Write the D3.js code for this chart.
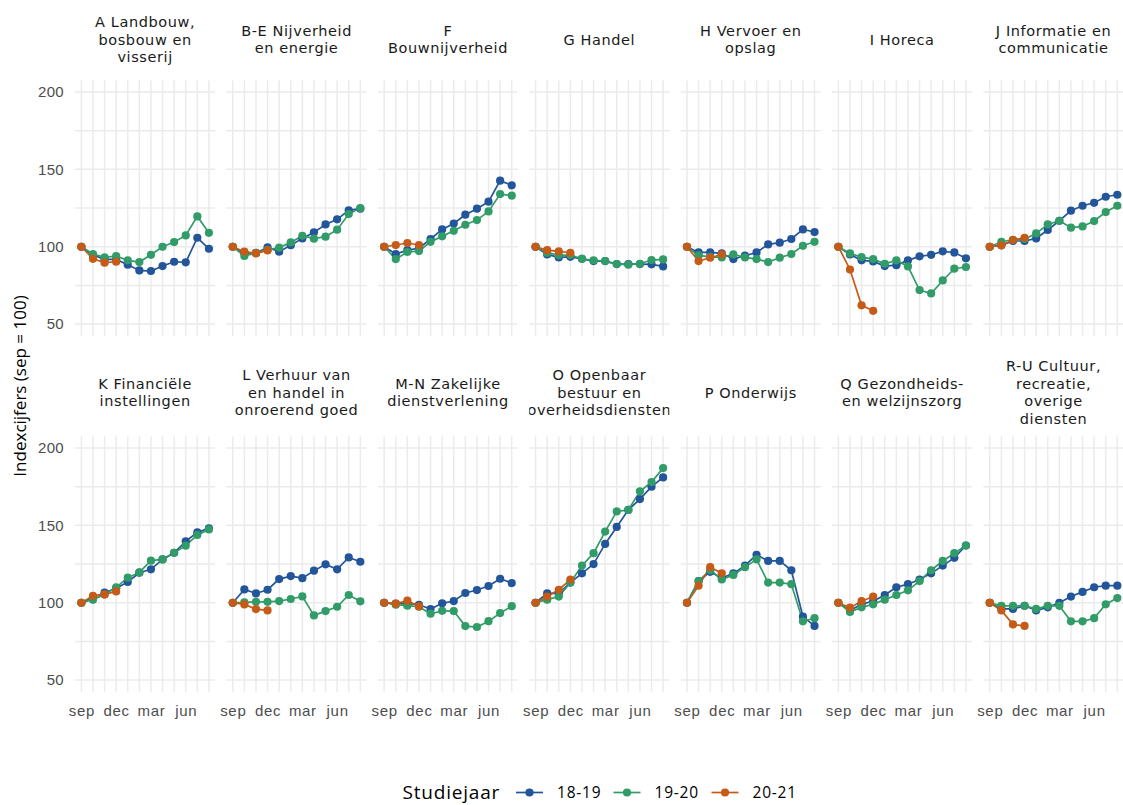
<!DOCTYPE html>
<html>
<head>
<meta charset="utf-8">
<script src="https://cdn.jsdelivr.net/npm/d3@7"></script>
<style>
  html, body { margin: 0; padding: 0; background: #ffffff; }
  svg { display: block; font-family: "Open Sans", "DejaVu Sans", sans-serif; }
</style>
</head>
<body>
<svg id="chart" width="1123" height="805"></svg>
<script>
// Sector labels (SBI sections), split into strip lines
const sectors = [
  ["A Landbouw,", "bosbouw en", "visserij"],
  ["B-E Nijverheid", "en energie"],
  ["F", "Bouwnijverheid"],
  ["G Handel"],
  ["H Vervoer en", "opslag"],
  ["I Horeca"],
  ["J Informatie en", "communicatie"],
  ["K Financiële", "instellingen"],
  ["L Verhuur van", "en handel in", "onroerend goed"],
  ["M-N Zakelijke", "dienstverlening"],
  ["O Openbaar", "bestuur en", "overheidsdiensten"],
  ["P Onderwijs"],
  ["Q Gezondheids-", "en welzijnszorg"],
  ["R-U Cultuur,", "recreatie,", "overige", "diensten"]
];

// Months of the school year (sep = index 0)
const months = ["sep", "okt", "nov", "dec", "jan", "feb", "mar", "apr", "mei", "jun", "jul", "aug"];
const monthTicks = [0, 3, 6, 9];
const yTicks = [50, 100, 150, 200];
const yMinor = [75, 125, 175];

// Study years
const years = ["18-19", "19-20", "20-21"];
const yearColors = ["#23559a", "#329c68", "#c65a17"];

// Index values per sector (same order as sectors), sep = 100
const idx1819 = [
  [100, 94.6, 91.8, 91.8, 88.4, 84.7, 84.3, 87.5, 90.3, 89.9, 105.8, 98.7],
  [100, 96, 96, 99.6, 96.8, 101, 105.4, 109.3, 114.4, 117.7, 123.5, 124.6],
  [100, 95.3, 97.8, 99, 105, 111.2, 115, 120.7, 124.6, 129.1, 142.7, 139.7],
  [100, 95, 93.1, 93.5, 92.2, 90.7, 90.7, 88.8, 88.8, 88.8, 88.6, 87.3],
  [100, 96.3, 96.3, 95.7, 92, 94.2, 96.3, 101.5, 102.6, 105, 111.2, 109.5],
  [100, 95, 91.2, 90.5, 87.5, 88.1, 91.2, 93.8, 94.8, 97, 96.3, 92.5],
  [100, 100.9, 103.7, 103.7, 105.4, 110.8, 116.8, 123.3, 126.5, 128.4, 132.3, 133.6],
  [100, 103.4, 106.5, 109.3, 113.4, 119.4, 121.6, 128, 132.3, 139.7, 145.5, 148.1],
  [100, 108.6, 106, 108.4, 115.3, 117.2, 115.9, 120.7, 124.8, 121.6, 129.3, 126.5],
  [100, 99.4, 99.6, 98.7, 95.9, 99.6, 101.1, 106.3, 108.2, 110.8, 115.5, 112.7],
  [100, 106, 106, 113, 119, 125, 138, 149, 160, 167, 175, 181],
  [100, 114, 120, 116, 119, 124, 131, 127, 127, 121, 91, 85],
  [100, 95, 99, 101, 105, 110, 112, 115, 119, 124, 129, 137],
  [100, 96, 96, 98, 95, 97, 100, 104, 107, 110, 111, 111]
];
const idx1920 = [
  [100, 95.3, 93.1, 94, 91.2, 90.1, 94.8, 100, 103, 107.3, 119.6, 109],
  [100, 94, 96, 98, 99.4, 102.8, 107.1, 105.2, 106.5, 111, 121.1, 125],
  [100, 92, 96.6, 97.2, 103.2, 106.7, 110.3, 114.2, 117.2, 122.8, 134, 133],
  [100, 96.1, 94.6, 94.6, 92.2, 91.2, 90.7, 88.8, 88.4, 89, 91.4, 91.8],
  [100, 94.4, 93.5, 93.1, 95, 93.1, 92, 90.1, 92.9, 95.3, 100.6, 103.2],
  [100, 95.7, 93.3, 92, 89, 91.2, 87.3, 72, 69.8, 78.2, 85.8, 86.9],
  [100, 103.2, 104.5, 105, 108.6, 114.4, 116.8, 112.3, 113.1, 116.6, 122.4, 126.5],
  [100, 101.9, 105.4, 109.9, 116.2, 119.6, 127.2, 128, 132.3, 136.9, 143.8, 147.4],
  [100, 100.2, 100.6, 100.6, 101.1, 102.4, 104.1, 91.8, 94.6, 97.4, 105, 100.9],
  [100, 98.7, 98.1, 97.4, 92.9, 94.8, 94.6, 84.9, 84.3, 88.1, 93.3, 97.8],
  [100, 102, 104, 113, 124, 132, 146, 159, 160, 172, 178, 187],
  [100, 114, 121, 115, 118, 123, 128, 113, 113, 112, 88, 90],
  [100, 94, 97, 99, 102, 105, 108, 114, 121, 127, 132, 137],
  [100, 98, 98, 98, 96, 98, 98, 88, 88, 90, 99, 103]
];
const idx2021 = [
  [100, 92.2, 89.7, 90.3],
  [100, 96.8, 95.7, 97.6],
  [100, 101.1, 102.4, 101.1],
  [100, 97.8, 97, 96.1],
  [100, 90.7, 92.9, 95],
  [100, 85.3, 62.1, 58.6],
  [100, 100.9, 104.3, 105.8],
  [100, 104.5, 105.4, 107.3],
  [100, 98.9, 95.9, 95],
  [100, 99.4, 101.3, 97.6],
  [100, 104, 108.4, 115],
  [100, 111, 123, 119],
  [100, 96.8, 101, 104],
  [100, 95, 86, 85]
];
const seriesByYear = [idx1819, idx1920, idx2021];

// Facet grid geometry
const nCols = 7;
const panelLeft0 = 75;
const panelStride = 151.4;
const panelW = 140.3;
const panelH = 255.3;
const rowTops = [80.4, 436.4];
const stripCenters = [39.5, 392.5];
const stripLineH = 17.6;

const svg = d3.select("#chart");
const defs = svg.append("defs");

const x = d3.scaleLinear().domain([-0.55, 11.55]).range([0, panelW]);
const y = d3.scaleLinear().domain([42.5, 207.5]).range([panelH, 0]);

const line = d3.line()
  .x((d, i) => x(i))
  .y(d => y(d));

sectors.forEach((labelLines, s) => {
  const row = Math.floor(s / nCols);
  const col = s % nCols;
  const px = panelLeft0 + col * panelStride;
  const py = rowTops[row];

  const g = svg.append("g").attr("transform", `translate(${px},${py})`);

  // grid
  const grid = g.append("g").attr("class", "grid");
  grid.selectAll("line.h")
    .data(yTicks.concat(yMinor))
    .join("line")
    .attr("x1", 0).attr("x2", panelW)
    .attr("y1", d => y(d)).attr("y2", d => y(d))
    .attr("stroke", "#ebebeb").attr("stroke-width", 1.5);
  grid.selectAll("line.v")
    .data(d3.range(months.length))
    .join("line")
    .attr("y1", 0).attr("y2", panelH)
    .attr("x1", d => x(d)).attr("x2", d => x(d))
    .attr("stroke", "#ebebeb").attr("stroke-width", 1.5);

  // series lines, then points
  seriesByYear.forEach((series, k) => {
    g.append("path")
      .datum(series[s])
      .attr("fill", "none")
      .attr("stroke", yearColors[k])
      .attr("stroke-width", 1.7)
      .attr("d", line);
  });
  seriesByYear.forEach((series, k) => {
    g.selectAll(null)
      .data(series[s])
      .join("circle")
      .attr("cx", (d, i) => x(i))
      .attr("cy", d => y(d))
      .attr("r", 4.1)
      .attr("fill", yearColors[k]);
  });

  // strip label lines, clipped to the panel width
  const clipId = "strip-clip-" + s;
  defs.append("clipPath").attr("id", clipId)
    .append("rect")
    .attr("x", px).attr("y", stripCenters[row] - 45)
    .attr("width", panelW).attr("height", 90);
  const n = labelLines.length;
  const strip = svg.append("g").attr("clip-path", `url(#${clipId})`);
  strip.selectAll("text")
    .data(labelLines)
    .join("text")
    .attr("x", px + panelW / 2)
    .attr("y", (d, i) => stripCenters[row] + (i - (n - 1) / 2) * stripLineH)
    .attr("dy", "0.35em")
    .attr("text-anchor", "middle")
    .attr("font-family", "'DejaVu Sans', sans-serif")
    .attr("font-size", 14.5)
    .attr("letter-spacing", 0.6)
    .attr("fill", "#1a1a1a")
    .text(d => d);

  // y axis on the first column
  if (col === 0) {
    const ya = g.append("g")
      .call(d3.axisLeft(y).tickValues(yTicks).tickSize(0).tickPadding(11));
    ya.select(".domain").remove();
    ya.selectAll("text")
      .attr("font-family", null)
      .attr("font-size", 15)
      .attr("letter-spacing", 0.3)
      .attr("fill", "#4d4d4d");
  }

  // x axis on the bottom row
  if (row === 1) {
    const xa = g.append("g")
      .attr("transform", `translate(0,${panelH})`)
      .call(d3.axisBottom(x).tickValues(monthTicks).tickFormat(i => months[i]).tickSize(0).tickPadding(14));
    xa.select(".domain").remove();
    xa.selectAll("text")
      .attr("font-family", null)
      .attr("font-size", 15)
      .attr("letter-spacing", 0.7)
      .attr("fill", "#4d4d4d");
  }
});

// y axis title
svg.append("text")
  .attr("transform", "translate(20,386) rotate(-90)")
  .attr("text-anchor", "middle")
  .attr("dy", "0.35em")
  .attr("font-size", 17)
  .attr("fill", "#000")
  .text("Indexcijfers (sep = 100)");

// legend
const legendY = 792.5;
const legend = svg.append("g");
legend.append("text")
  .attr("x", 402.5).attr("y", legendY).attr("dy", "0.35em")
  .attr("font-size", 19).attr("letter-spacing", 0.8).attr("fill", "#000")
  .text("Studiejaar");
const keyX = [516, 613.5, 711.5];
years.forEach((yr, k) => {
  const kg = legend.append("g").attr("transform", `translate(${keyX[k]},${legendY})`);
  kg.append("line").attr("x1", 0).attr("x2", 27)
    .attr("stroke", yearColors[k]).attr("stroke-width", 1.7);
  kg.append("circle").attr("cx", 13.5).attr("r", 4.1).attr("fill", yearColors[k]);
  kg.append("text").attr("x", 41).attr("dy", "0.35em")
    .attr("font-size", 15.5).attr("letter-spacing", 0.8).attr("fill", "#000").text(yr);
});
</script>
</body>
</html>
